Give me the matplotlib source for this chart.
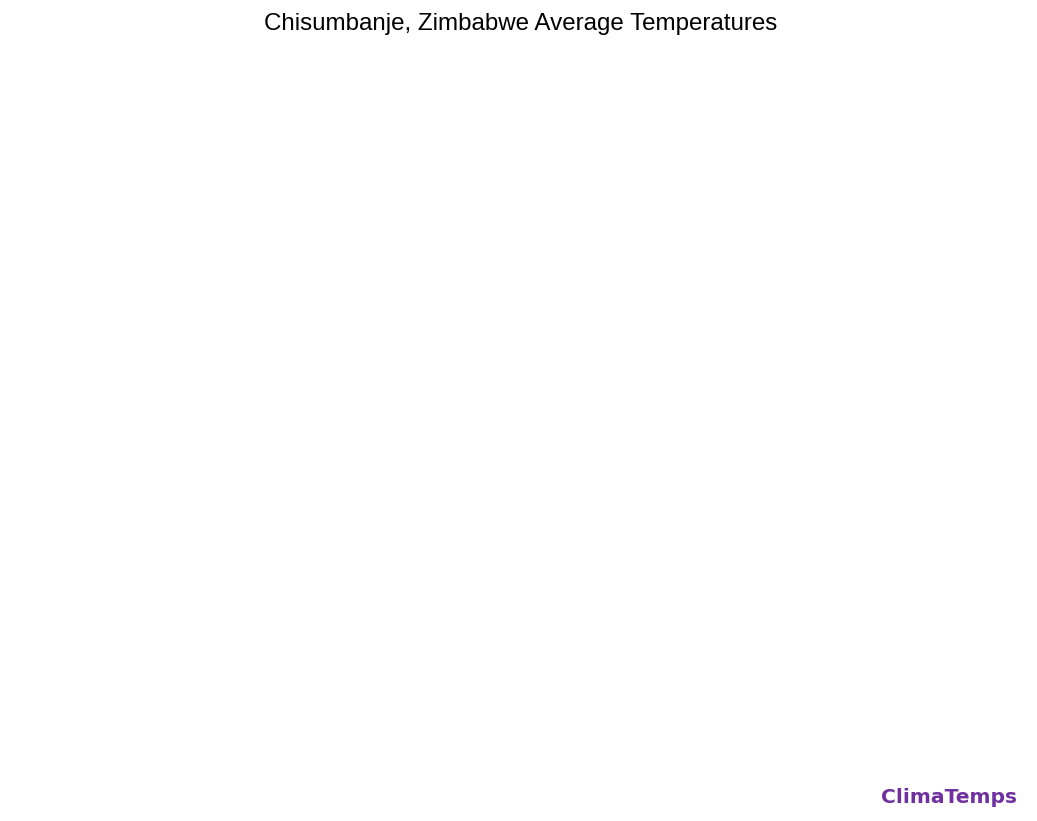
import matplotlib.pyplot as plt

# The reference shows only the title and the watermark; no series are drawn
TITLE = "Chisumbanje, Zimbabwe Average Temperatures"
WATERMARK = "ClimaTemps"

fig = plt.figure(figsize=(10.37, 8.21), dpi=100)
fig.patch.set_facecolor("white")

ax = fig.add_axes([0, 0, 1, 1])
ax.axis("off")

fig.text(520.5 / 1037, 1 - 24 / 821, TITLE, ha="center", va="center",
         fontsize=17.4, family="Liberation Sans", color="black")
fig.text(1 - 20 / 1037, 1 - 797 / 821, WATERMARK, ha="right", va="center",
         fontsize=14.6, family="DejaVu Sans", fontweight="bold", color="#7030A0")

fig.savefig("out.png", dpi=100, facecolor="white")
